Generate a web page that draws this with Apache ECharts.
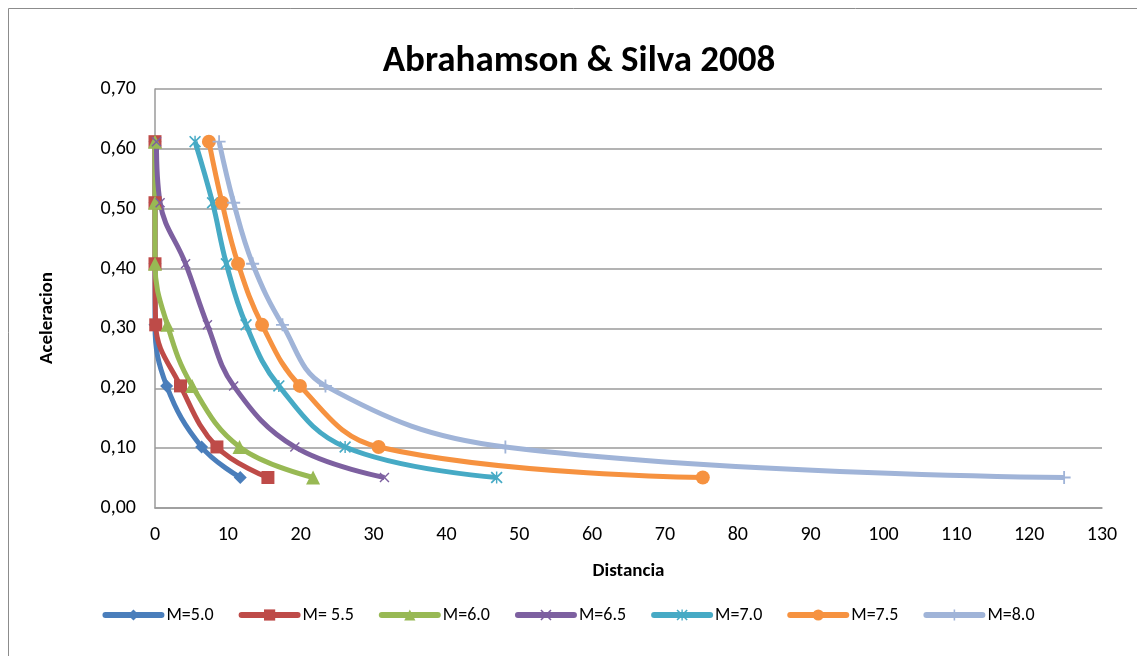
<!DOCTYPE html>
<html>
<head>
<meta charset="utf-8">
<script src="https://cdn.jsdelivr.net/npm/echarts@6/dist/echarts.min.js"></script>
<style>
  html, body { margin: 0; padding: 0; background: #fff; }
  #chart { width: 1137px; height: 656px; }
</style>
</head>
<body>
<div id="chart"></div>
<script>
// aceleracion (g) - mismo eje Y para todas las curvas
const accel = [0.612, 0.51, 0.408, 0.306, 0.204, 0.102, 0.051];

// distancia (km) por magnitud
const m50 = [0, 0, 0, 0, 1.6, 6.4, 11.7];
const m55 = [0, 0, 0, 0.1, 3.5, 8.5, 15.5];
const m60 = [0, 0, 0, 1.7, 5.1, 11.6, 21.7];
const m65 = [0.2, 0.7, 4.2, 7.2, 10.8, 19.2, 31.5];
const m70 = [5.5, 7.9, 9.8, 12.5, 17.0, 26.1, 46.9];
const m75 = [7.4, 9.2, 11.4, 14.7, 19.9, 30.7, 75.2];
const m80 = [8.8, 10.8, 13.4, 17.5, 23.4, 48.1, 124.8];

const names = ['M=5.0', 'M= 5.5', 'M=6.0', 'M=6.5', 'M=7.0', 'M=7.5', 'M=8.0'];
const xTicks = [0, 130, 10];   // min, max, interval
const yTicks = [0, 0.7, 0.1];

const FONT = 'Carlito, Lato, "Open Sans", sans-serif';

// marcadores tipo Excel
const X_PATH = 'path://M0,1L1,0L5,4L9,0L10,1L6,5L10,9L9,10L5,6L1,10L0,9L4,5Z';
const PLUS_PATH = 'path://M4.3,0H5.7V4.3H10V5.7H5.7V10H4.3V5.7H0V4.3H4.3Z';
const STAR_PATH = 'path://M0,1L1,0L5,4L9,0L10,1L6,5L10,9L9,10L5,6L1,10L0,9L4,5ZM4.4,0H5.6V10H4.4Z';

const chart = echarts.init(document.getElementById('chart'));

const makeSeries = (name, dist, color, symbol, size) => ({
  name: name,
  type: 'line',
  data: dist.map((d, i) => [d, accel[i]]),
  smooth: 0.4,
  symbol: symbol,
  symbolSize: size,
  showAllSymbol: true,
  lineStyle: { color: color, width: 5 },
  itemStyle: { color: color },
  emphasis: { disabled: true },
});

const option = {
  animation: false,
  backgroundColor: '#fff',
  textStyle: { fontFamily: FONT },
  title: {
    text: 'Abrahamson & Silva 2008',
    left: 574,
    textAlign: 'center',
    top: 38,
    textStyle: { fontSize: 37, fontWeight: 'bold', color: '#000', fontFamily: FONT },
  },
  graphic: [
    {
      type: 'rect',
      shape: { x: 8.5, y: 8.5, width: 1200, height: 700 },
      style: { fill: 'none', stroke: '#8c8c8c', lineWidth: 1 },
      silent: true,
      z: -1,
    },
    {
      type: 'text',
      x: 47,
      y: 318,
      rotation: Math.PI / 2,
      style: {
        text: 'Aceleracion',
        fontSize: 19,
        fontWeight: 'bold',
        fontFamily: FONT,
        fill: '#000',
        align: 'center',
        verticalAlign: 'middle',
      },
    },
  ],
  legend: {
    bottom: 27,
    left: 'center',
    itemWidth: 56,
    itemHeight: 14,
    itemGap: 25,
    lineStyle: { width: 6, cap: 'round' },
    textStyle: { fontSize: 18, color: '#000', fontFamily: FONT },
    data: names,
  },
  grid: { left: 155, right: 35, top: 89, bottom: 148 },
  xAxis: {
    type: 'value',
    min: xTicks[0],
    max: xTicks[1],
    interval: xTicks[2],
    name: 'Distancia',
    nameLocation: 'middle',
    nameGap: 54,
    nameTextStyle: { fontSize: 19, fontWeight: 'bold', color: '#000' },
    axisLine: { lineStyle: { color: '#9a9a9a', width: 1.5 } },
    axisTick: { show: false },
    splitLine: { show: false },
    axisLabel: { fontSize: 20, color: '#000', margin: 17 },
  },
  yAxis: {
    type: 'value',
    min: yTicks[0],
    max: yTicks[1],
    interval: yTicks[2],
    axisLine: { show: true, lineStyle: { color: '#9a9a9a', width: 1.5 } },
    axisTick: { show: false },
    splitLine: { lineStyle: { color: '#9a9a9a', width: 1.5 } },
    axisLabel: {
      fontSize: 20,
      color: '#000',
      margin: 19,
      formatter: (v) => v.toFixed(2).replace('.', ','),
    },
  },
  series: [
    makeSeries(names[0], m50, '#4A7EBB', 'diamond', 13),
    makeSeries(names[1], m55, '#BE4B48', 'rect', 13),
    makeSeries(names[2], m60, '#98B954', 'triangle', 14),
    makeSeries(names[3], m65, '#7D60A0', X_PATH, 10),
    makeSeries(names[4], m70, '#46AAC5', STAR_PATH, 12),
    makeSeries(names[5], m75, '#F69240', 'circle', 14),
    makeSeries(names[6], m80, '#A0B4D8', PLUS_PATH, 13),
  ],
};

chart.setOption(option);
</script>
</body>
</html>
